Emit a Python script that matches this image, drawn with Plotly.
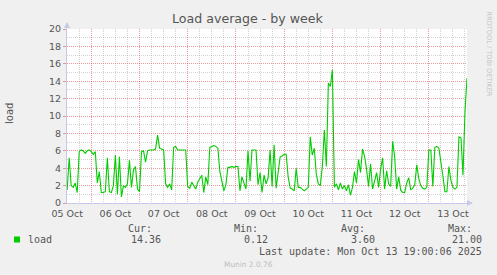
import pandas as pd
import plotly.graph_objects as go

# ---------------- data ----------------
START = "2025-10-05 12:00"
RANGE = ["2025-10-05 11:55", "2025-10-13 19:00"]
load_values = [
    1.5, 5.2, 2.0, 1.8, 2.3, 1.2, 5.9, 6.1, 6.0, 5.7, 6.0, 6.1, 5.9, 5.6, 5.9, 2.3,
    3.6, 1.2, 1.2, 1.3, 5.2, 1.3, 1.2, 2.0, 5.5, 1.0, 5.3, 0.7, 2.0, 1.8, 2.2, 4.9,
    1.8, 3.8, 4.2, 1.6, 1.3, 5.9, 6.0, 4.7, 6.0, 6.1, 6.1, 6.1, 6.2, 7.8, 6.3, 6.2,
    6.1, 2.2, 1.8, 2.2, 1.5, 6.4, 6.5, 6.1, 6.1, 6.1, 6.1, 6.1, 1.9, 1.7, 2.4, 2.0,
    1.6, 2.4, 2.8, 3.2, 1.2, 3.0, 2.1, 6.4, 6.5, 6.6, 6.5, 6.3, 3.6, 2.4, 1.4, 2.1,
    4.1, 4.1, 4.2, 4.1, 4.2, 4.2, 1.4, 3.0, 2.4, 1.6, 6.0, 2.5, 6.1, 6.1, 6.1, 2.1,
    3.5, 1.2, 3.2, 2.2, 2.9, 6.1, 1.9, 6.7, 1.7, 3.5, 5.3, 5.4, 5.6, 5.6, 3.0, 1.7,
    1.6, 1.4, 4.0, 1.8, 1.8, 1.6, 1.4, 1.6, 1.8, 7.6, 5.5, 6.3, 3.3, 2.2, 2.0, 4.2,
    8.4, 4.2, 13.8, 13.4, 15.3, 1.8, 2.2, 1.5, 2.3, 1.6, 2.0, 1.4, 2.1, 0.9, 1.8, 3.6,
    2.3, 5.0, 3.5, 6.2, 5.4, 3.9, 1.9, 4.5, 1.6, 2.5, 3.5, 1.8, 3.9, 5.2, 1.6, 3.7,
    2.2, 1.9, 7.1, 5.3, 1.6, 3.0, 1.5, 1.2, 1.2, 2.3, 2.9, 1.5, 1.7, 2.1, 4.4, 2.8,
    2.0, 1.7, 1.6, 1.8, 6.1, 6.1, 1.9, 6.4, 6.5, 6.3, 4.9, 3.1, 1.3, 1.3, 4.2, 2.6,
    1.8, 1.6, 1.8, 7.6, 7.5, 3.2, 10.5, 14.36,
]
times = pd.date_range(START, periods=len(load_values), freq="h")

series_name = "load"
stat_labels = ["Cur:", "Min:", "Avg:", "Max:"]
stat_values = ["14.36", "0.12", "3.60", "21.00"]
title_text = "Load average - by week"
y_label = "load"
last_update = "Last update: Mon Oct 13 19:00:06 2025"
footer = "Munin 2.0.76"
side_text = "RRDTOOL / TOBI OETIKER"

# ---------------- layout helpers ----------------
WIDTH, HEIGHT = 497, 275
L, R, T, B = 67, 30, 29, 72
PW, PH = WIDTH - L - R, HEIGHT - T - B


def px(x):
    return (x - L) / PW


def py(y):
    return (HEIGHT - B - y) / PH


GREEN = "#00CC00"
TXT = "#555555"
MAJ = "rgba(224,72,72,0.55)"
MIN = "rgba(120,120,120,0.33)"
AX = "#C8C8EC"

fig = go.Figure()
fig.add_trace(go.Scatter(x=times, y=load_values, mode="lines",
                         line=dict(color=GREEN, width=1.1), name=series_name,
                         showlegend=False, hoverinfo="skip"))

fig.update_layout(
    width=WIDTH, height=HEIGHT,
    margin=dict(l=L, r=R, t=T, b=B, pad=0),
    paper_bgcolor="#F0F0F0", plot_bgcolor="#FFFFFF",
    font=dict(family="DejaVu Sans", size=9.5, color=TXT),
    showlegend=False,
    xaxis=dict(
        type="date", range=RANGE,
        tick0="2025-10-05 00:00", dtick=86400000,
        ticklabelmode="period", tickformat="%d %b",
        showgrid=True, gridcolor=MAJ, griddash="1px,1px", gridwidth=1,
        minor=dict(dtick=6 * 3600000, tick0="2025-10-05 06:00", showgrid=True,
                   gridcolor=MIN, griddash="1px,1px", gridwidth=1),
        showline=True, linecolor=AX, linewidth=1,
        ticks="outside", ticklen=2, tickcolor="rgba(0,0,0,0)",
        zeroline=False, fixedrange=True,
        tickfont=dict(family="DejaVu Sans", size=9.5, color=TXT),
    ),
    yaxis=dict(
        range=[0, 20], dtick=2, tick0=0,
        showgrid=True, gridcolor=MAJ, griddash="1px,1px", gridwidth=1,
        minor=dict(tick0=1, dtick=2, showgrid=True, gridcolor=MIN,
                   griddash="1px,1px", gridwidth=1),
        showline=True, linecolor=AX, linewidth=1,
        ticks="outside", ticklen=3, tickcolor=MAJ,
        zeroline=False, fixedrange=True,
        tickfont=dict(family="DejaVu Sans", size=9.5, color=TXT),
    ),
)

ann = []
# title
ann.append(dict(text=title_text, x=px(248), y=py(19), xref="paper", yref="paper",
                xanchor="center", yanchor="middle", showarrow=False,
                font=dict(family="DejaVu Sans", size=12.6, color=TXT)))
# y label
ann.append(dict(text=y_label, x=px(9), y=py(114), xref="paper", yref="paper",
                xanchor="center", yanchor="middle", showarrow=False, textangle=-90,
                font=dict(family="DejaVu Sans", size=10, color=TXT)))
# side text
ann.append(dict(text=side_text, x=px(488), y=py(53.5), xref="paper", yref="paper",
                xanchor="center", yanchor="middle", showarrow=False, textangle=90,
                font=dict(family="DejaVu Sans", size=6.6, color="#C4C4C4")))
# legend
MONO = dict(family="DejaVu Sans Mono", size=10, color=TXT)
ann.append(dict(text=series_name, x=px(26), y=py(239.5), xref="paper", yref="paper",
                xanchor="left", yanchor="middle", showarrow=False, font=MONO))
head_x = [126, 232, 339, 446]
val_x = [163, 270, 377, 484]
for hx, lab in zip(head_x, stat_labels):
    ann.append(dict(text=lab, x=px(hx), y=py(228.5), xref="paper", yref="paper",
                    xanchor="left", yanchor="middle", showarrow=False, font=MONO))
for vx, v in zip(val_x, stat_values):
    ann.append(dict(text=v, x=px(vx), y=py(239.5), xref="paper", yref="paper",
                    xanchor="right", yanchor="middle", showarrow=False, font=MONO))
ann.append(dict(text=last_update, x=px(484), y=py(251.5), xref="paper", yref="paper",
                xanchor="right", yanchor="middle", showarrow=False, font=MONO))
ann.append(dict(text=footer, x=px(248), y=py(264.5), xref="paper", yref="paper",
                xanchor="center", yanchor="middle", showarrow=False,
                font=dict(family="DejaVu Sans", size=7.4, color="#BDBDBD")))
# axis arrows
ann.append(dict(text="", x=px(67), y=py(22), xref="paper", yref="paper",
                ax=0, ay=8, showarrow=True, arrowhead=2, arrowsize=1.2,
                arrowwidth=1, arrowcolor=AX))
ann.append(dict(text="", x=px(473), y=py(203), xref="paper", yref="paper",
                ax=-8, ay=0, showarrow=True, arrowhead=2, arrowsize=1.2,
                arrowwidth=1, arrowcolor=AX))
fig.update_layout(annotations=ann)

fig.add_shape(type="rect", xref="paper", yref="paper",
              x0=px(14), x1=px(20), y0=py(242.5), y1=py(236.5),
              fillcolor=GREEN, line=dict(width=0))

fig.write_html("out.html")
